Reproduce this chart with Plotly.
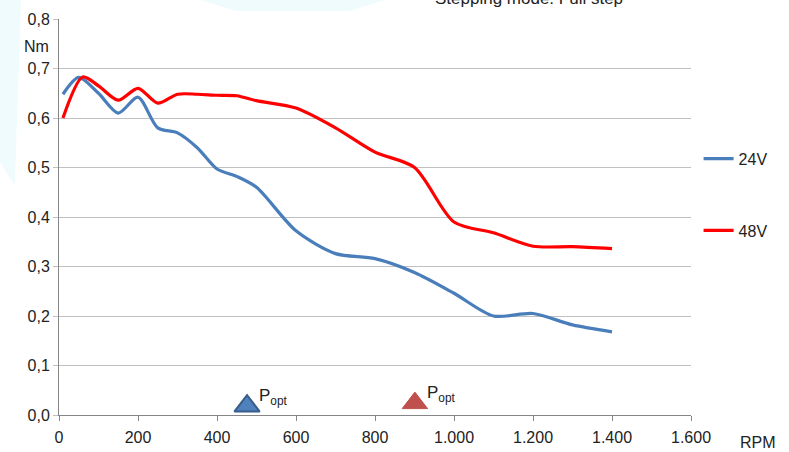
import plotly.graph_objects as go

# ---- data ----
rpm_24v = [10, 50, 100, 150, 200, 250, 300, 350, 400, 450, 500, 600, 700, 800, 900, 1000, 1100, 1200, 1300, 1400]
torque_24v = [0.648, 0.682, 0.650, 0.610, 0.642, 0.580, 0.570, 0.540, 0.497, 0.482, 0.460, 0.372, 0.326, 0.316, 0.288, 0.246, 0.200, 0.205, 0.182, 0.168]

rpm_48v = [10, 60, 100, 150, 200, 250, 300, 350, 400, 450, 500, 600, 700, 800, 900, 1000, 1100, 1200, 1300, 1400]
torque_48v = [0.600, 0.683, 0.665, 0.636, 0.660, 0.630, 0.648, 0.648, 0.646, 0.645, 0.635, 0.620, 0.580, 0.531, 0.500, 0.390, 0.368, 0.341, 0.340, 0.336]

popt_rpm = [476, 901]
popt_torque = [0.018, 0.024]
popt_labels = ["P<sub>opt</sub>", "P<sub>opt</sub>"]

x_ticks = [0, 200, 400, 600, 800, 1000, 1200, 1400, 1600]
y_ticks = [0.0, 0.1, 0.2, 0.3, 0.4, 0.5, 0.6, 0.7, 0.8]

FONT = "Liberation Sans, Arial, sans-serif"
TXT = "#222222"

fig = go.Figure()
fig.add_trace(go.Scatter(x=rpm_24v, y=torque_24v, mode="lines", name="24V",
                         legendgroup="a",
                         line=dict(color="#4a7ebb", width=3.2, shape="spline", smoothing=0.8)))
fig.add_trace(go.Scatter(x=rpm_48v, y=torque_48v, mode="lines", name="48V",
                         legendgroup="b",
                         line=dict(color="#ff0000", width=3.2, shape="spline", smoothing=0.8)))
fig.add_trace(go.Scatter(x=popt_rpm[:1], y=popt_torque[:1], mode="markers", showlegend=False,
                         marker=dict(symbol="triangle-up", size=22, color="#4f81bd",
                                     line=dict(color="#385d8a", width=2)), cliponaxis=False))
fig.add_trace(go.Scatter(x=popt_rpm[1:], y=popt_torque[1:], mode="markers", showlegend=False,
                         marker=dict(symbol="triangle-up", size=22, color="#c0504d",
                                     line=dict(color="#c0504d", width=1)), cliponaxis=False))

annotations = []
for xr, yr, lab in zip(popt_rpm, popt_torque, popt_labels):
    annotations.append(dict(x=xr, y=yr, xref="x", yref="y", text=lab, showarrow=False,
                            xanchor="left", yanchor="bottom", xshift=10, yshift=-4,
                            font=dict(family=FONT, size=17, color=TXT)))
annotations += [
    dict(x=-0.036, y=0.93, xref="paper", yref="paper", text="Nm", showarrow=False,
         xanchor="center", yanchor="middle", font=dict(family=FONT, size=16, color=TXT)),
    dict(x=1.074, y=-0.0707, xref="paper", yref="paper", text="RPM", showarrow=False,
         xanchor="left", yanchor="middle", font=dict(family=FONT, size=16, color=TXT)),
    dict(x=0.592, y=1.052, xref="paper", yref="paper", text="Stepping mode: Full step",
         showarrow=False, xanchor="left", yanchor="middle",
         font=dict(family=FONT, size=17, color=TXT)),
]

shapes = [
    # faint watermark shapes in background
    dict(type="path", xref="paper", yref="paper", layer="below", line=dict(width=0),
         fillcolor="#effbfd",
         path="M -0.094 1.05 L -0.06 1.05 L -0.07 0.58 L -0.094 0.64 Z"),
    dict(type="path", xref="paper", yref="paper", layer="below", line=dict(width=0),
         fillcolor="#effbfd",
         path="M 0.22 1.05 L 0.52 1.05 L 0.46 1.02 L 0.28 1.02 Z"),
    # white text box hiding the top gridline
    dict(type="rect", xref="paper", yref="paper", layer="above", line=dict(width=0),
         fillcolor="white", x0=0.56, x1=1.02, y0=0.99, y1=1.06),
]

fig.update_layout(
    width=789, height=452,
    margin=dict(l=59, r=98, t=19, b=37),
    paper_bgcolor="white", plot_bgcolor="white",
    separators=",.",
    font=dict(family=FONT, size=15, color=TXT),
    showlegend=True,
    legend=dict(x=1.012, y=0.69, xanchor="left", yanchor="top",
                tracegroupgap=48, font=dict(family=FONT, size=16, color=TXT),
                bgcolor="rgba(0,0,0,0)", itemwidth=30),
    annotations=annotations,
    shapes=shapes,
)
fig.update_xaxes(range=[0, 1600], tickvals=x_ticks, tickformat=",d", automargin=False,
                 showgrid=False, zeroline=False, showline=True, linecolor="#868686",
                 linewidth=1, ticks="outside", ticklen=5, tickcolor="#868686",
                 ticklabelstandoff=3,
                 tickfont=dict(family=FONT, size=16, color=TXT))
fig.update_yaxes(range=[0, 0.8], tickvals=y_ticks, tickformat=".1f", automargin=False,
                 showgrid=True, gridcolor="#c0c0c0", gridwidth=1, zeroline=False,
                 showline=True, linecolor="#868686", linewidth=1,
                 ticks="outside", ticklen=5, tickcolor="#c0c0c0",
                 tickfont=dict(family=FONT, size=16, color=TXT))

fig.write_html("out.html", config={"displayModeBar": False},
               post_script="document.body.style.margin='0px';document.body.style.overflow='hidden';")
